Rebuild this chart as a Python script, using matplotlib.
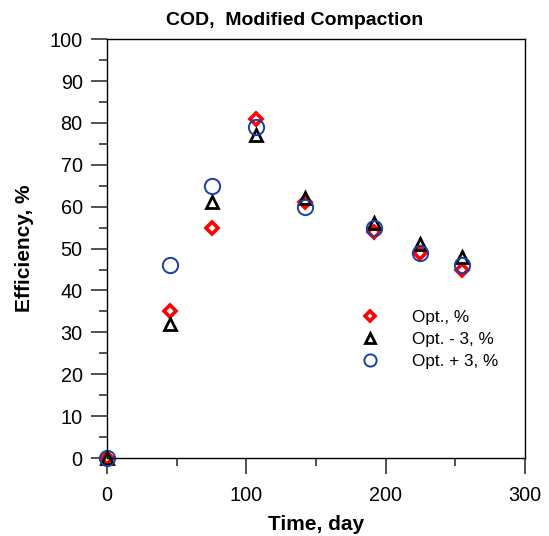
import matplotlib
matplotlib.use("Agg")
import matplotlib.pyplot as plt
from matplotlib.ticker import MultipleLocator

plt.rcParams['font.family'] = ['Liberation Sans', 'DejaVu Sans']

days = [0, 45, 75, 107, 142, 192, 225, 255]
opt = [0, 35, 55, 81, 61, 54, 49, 45]
opt_minus3 = [0, 32, 61, 77, 62, 56, 51, 48]
opt_plus3 = [0, 46, 65, 79, 60, 55, 49, 46]

fig = plt.figure(figsize=(5.49, 5.36), dpi=100)
ax = fig.add_axes([0.195, 0.1455, 0.761, 0.7815])

ax.plot(days, opt, linestyle='none', marker='D', ms=5.8, mfc='white',
        mec='#ff0000', mew=2.6, label='Opt., %', clip_on=False)
ax.plot(days, opt_minus3, linestyle='none', marker='^', ms=8.5, mfc='none',
        mec='black', mew=2, label='Opt. - 3, %', clip_on=False)
ax.plot(days, opt_plus3, linestyle='none', marker='o', ms=11, mfc='none',
        mec='#1a3fa8', mew=1.4, label='Opt. + 3, %', clip_on=False)

ax.set_xlim(0, 300)
ax.set_ylim(0, 100)
ax.xaxis.set_major_locator(MultipleLocator(100))
ax.xaxis.set_minor_locator(MultipleLocator(50))
ax.yaxis.set_major_locator(MultipleLocator(10))
ax.yaxis.set_minor_locator(MultipleLocator(5))
ax.tick_params(which='both', direction='out', top=False, right=False,
               color='#333333', width=1.2, labelsize=14.3)
ax.tick_params(which='major', length=11.5)
ax.tick_params(axis='y', which='major', pad=6)
ax.tick_params(axis='x', which='major', pad=9)
ax.tick_params(which='minor', length=6)
for s in ax.spines.values():
    s.set_linewidth(1.0)

ax.set_xlabel('Time, day', fontsize=15, fontweight='bold', labelpad=7)
ax.set_ylabel('Efficiency, %', fontsize=15, fontweight='bold', labelpad=11)
ax.set_title('COD,  Modified Compaction', fontsize=14, fontweight='bold',
             x=0.449, pad=10)

ax.legend(loc='upper left', bbox_to_anchor=(0.551, 0.39), frameon=False,
          fontsize=12.3, handletextpad=1.45, labelspacing=0.42, markerscale=0.8)

fig.savefig('out.png', dpi=100)
